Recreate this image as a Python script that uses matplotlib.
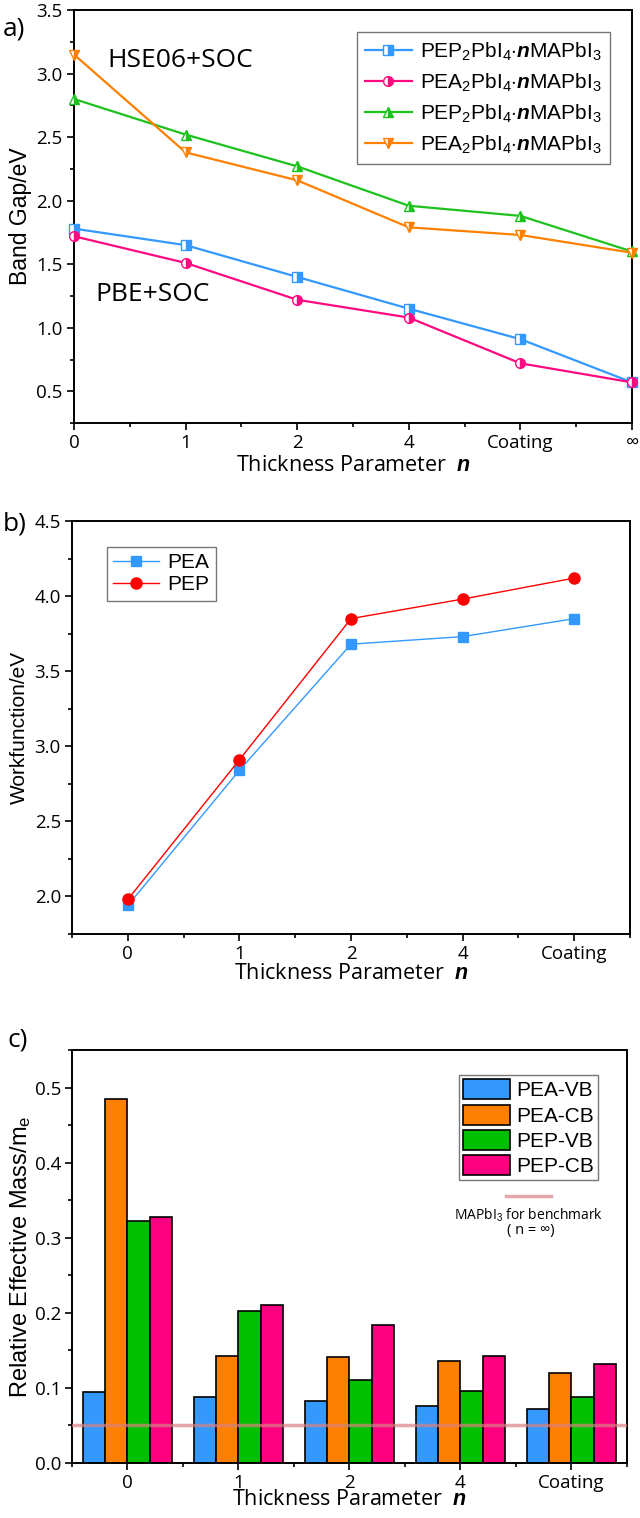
import numpy as np
import matplotlib
matplotlib.use('Agg')
import matplotlib.pyplot as plt
from matplotlib.ticker import MultipleLocator

plt.rcParams['font.family'] = ['Open Sans', 'DejaVu Sans']
plt.rcParams['mathtext.fontset'] = 'custom'
plt.rcParams['mathtext.rm'] = 'Liberation Sans'
plt.rcParams['mathtext.it'] = 'Liberation Sans:italic'
plt.rcParams['mathtext.bf'] = 'Liberation Sans:bold'
plt.rcParams['mathtext.bfit'] = 'Liberation Sans:bold:italic'

# ---- data: panel a (band gaps) ----
gap_ticks = ['0', '1', '2', '4', 'Coating', '\u221e']
pep_pbe = [1.78, 1.65, 1.40, 1.15, 0.91, 0.57]
pea_pbe = [1.72, 1.51, 1.22, 1.08, 0.72, 0.57]
pep_hse = [2.80, 2.52, 2.27, 1.96, 1.88, 1.60]
pea_hse = [3.15, 2.38, 2.16, 1.79, 1.73, 1.59]

# ---- data: panel b (workfunction) ----
wf_ticks = ['0', '1', '2', '4', 'Coating']
wf_pea = [1.94, 2.84, 3.68, 3.73, 3.85]
wf_pep = [1.98, 2.91, 3.85, 3.98, 4.12]

# ---- data: panel c (effective mass) ----
mass_ticks = ['0', '1', '2', '4', 'Coating']
pea_vb = [0.095, 0.088, 0.083, 0.076, 0.072]
pea_cb = [0.485, 0.143, 0.141, 0.136, 0.120]
pep_vb = [0.322, 0.203, 0.110, 0.096, 0.088]
pep_cb = [0.327, 0.211, 0.184, 0.143, 0.132]
mapbi3_ref = 0.05

BLUE = '#3399FF'
PINK = '#FF0A80'
GREEN = '#1DC21D'
ORANGE = '#FF8000'
REFCOL = '#D98080'

fig = plt.figure(figsize=(6.4, 15.18), dpi=100)
ax_a = fig.add_axes([0.1156, 0.7213, 0.872, 0.2721])
ax_b = fig.add_axes([0.1125, 0.3847, 0.872, 0.2721])
ax_c = fig.add_axes([0.1125, 0.0362, 0.867, 0.2721])

nlabel = 'Thickness Parameter  $\\mathbfit{n}$'
LEGFONT = {'family': 'Liberation Sans', 'size': 15}


def style_axes(ax):
    for s in ax.spines.values():
        s.set_linewidth(1.4)
    ax.tick_params(which='both', direction='out', top=False, right=False, width=1.2)
    ax.tick_params(which='major', length=5, labelsize=13.5, pad=3)
    ax.tick_params(which='minor', length=3)
    ax.xaxis.set_minor_locator(MultipleLocator(0.5))


# ---- panel a ----
x = np.arange(len(gap_ticks))
series_a = [
    (pep_pbe, BLUE, 's', 'PEP$_2$PbI$_4$$\\cdot$$\\mathbfit{n}$MAPbI$_3$'),
    (pea_pbe, PINK, 'o', 'PEA$_2$PbI$_4$$\\cdot$$\\mathbfit{n}$MAPbI$_3$'),
    (pep_hse, GREEN, '^', 'PEP$_2$PbI$_4$$\\cdot$$\\mathbfit{n}$MAPbI$_3$'),
    (pea_hse, ORANGE, 'v', 'PEA$_2$PbI$_4$$\\cdot$$\\mathbfit{n}$MAPbI$_3$'),
]
for vals, col, mk, lab in series_a:
    ax_a.plot(x, vals, color=col, lw=1.6, marker=mk, ms=7, fillstyle='right',
              markerfacecoloralt='white', markeredgecolor=col, markeredgewidth=1.0,
              label=lab, clip_on=False, zorder=3)
ax_a.set_xlim(0, 5)
ax_a.set_ylim(0.25, 3.5)
ax_a.set_xticks(x)
ax_a.set_xticklabels(gap_ticks)
ax_a.yaxis.set_major_locator(MultipleLocator(0.5))
ax_a.yaxis.set_minor_locator(MultipleLocator(0.25))
style_axes(ax_a)
ax_a.set_xlabel(nlabel, fontsize=15.5, labelpad=2)
ax_a.set_ylabel('Band Gap/eV', fontsize=16.5, family='Liberation Sans', labelpad=3)
ax_a.text(0.3, 3.1, 'HSE06+SOC', fontsize=19, va='center')
ax_a.text(0.19, 1.26, 'PBE+SOC', fontsize=19, va='center')
leg = ax_a.legend(loc='upper right', bbox_to_anchor=(0.9606, 0.947), prop=LEGFONT,
                  frameon=True, fancybox=False, edgecolor='#555555',
                  handlelength=2.25, labelspacing=0.42, borderpad=0.4,
                  handletextpad=0.4, borderaxespad=0)
leg.get_frame().set_linewidth(1.0)
fig.text(0.004, 0.981, 'a)', fontsize=19, va='center')

# ---- panel b ----
xb = np.arange(len(wf_ticks))
ax_b.plot(xb, wf_pea, color=BLUE, lw=1.0, marker='s', ms=7, label='PEA', zorder=3)
ax_b.plot(xb, wf_pep, color='#FF0000', lw=1.0, marker='o', ms=8, label='PEP', zorder=3)
ax_b.set_xlim(-0.5, 4.5)
ax_b.set_ylim(1.75, 4.5)
ax_b.set_xticks(xb)
ax_b.set_xticklabels(wf_ticks)
ax_b.yaxis.set_major_locator(MultipleLocator(0.5))
ax_b.yaxis.set_minor_locator(MultipleLocator(0.25))
style_axes(ax_b)
ax_b.set_xlabel(nlabel, fontsize=15.5, labelpad=0)
ax_b.set_ylabel('Workfunction/eV', fontsize=15, family='Liberation Sans', labelpad=4)
leg = ax_b.legend(loc='upper left', bbox_to_anchor=(0.063, 0.937), prop=LEGFONT,
                  frameon=True, fancybox=False, edgecolor='#555555',
                  handlelength=2.2, labelspacing=0.15, borderpad=0.3,
                  handletextpad=0.4, borderaxespad=0)
leg.get_frame().set_linewidth(1.0)
fig.text(0.004, 0.655, 'b)', fontsize=19, va='center')

# ---- panel c ----
xc = np.arange(len(mass_ticks))
w = 0.2
bars_c = [(pea_vb, BLUE, 'PEA-VB'), (pea_cb, ORANGE, 'PEA-CB'),
          (pep_vb, '#00C000', 'PEP-VB'), (pep_cb, '#FF0080', 'PEP-CB')]
for i, (vals, col, lab) in enumerate(bars_c):
    ax_c.bar(xc + (i - 1.5) * w, vals, width=w, color=col, edgecolor='black',
             linewidth=1.2, label=lab, zorder=2)
ax_c.axhline(mapbi3_ref, color=REFCOL, lw=2.5, alpha=0.7, zorder=4)
ax_c.set_xlim(-0.5, 4.5)
ax_c.set_ylim(0, 0.55)
ax_c.set_xticks(xc)
ax_c.set_xticklabels(mass_ticks)
ax_c.yaxis.set_major_locator(MultipleLocator(0.1))
ax_c.yaxis.set_minor_locator(MultipleLocator(0.05))
style_axes(ax_c)
ax_c.set_xlabel(nlabel, fontsize=15.5, labelpad=-2)
ax_c.set_ylabel('Relative Effective Mass/m$_\\mathrm{e}$', fontsize=17,
                family='Liberation Sans', labelpad=1)
leg = ax_c.legend(loc='upper right', bbox_to_anchor=(0.948, 0.939), prop=LEGFONT,
                  frameon=True, fancybox=False, edgecolor='#555555',
                  handlelength=2.25, handleheight=1.1, labelspacing=0.2,
                  borderpad=0.2, handletextpad=0.3, borderaxespad=0)
leg.get_frame().set_linewidth(1.0)
# small benchmark key under the legend
ax_c.plot([3.41, 3.82], [0.355, 0.355], color=REFCOL, lw=2.5, alpha=0.7, zorder=4)
ax_c.text(3.61, 0.330, 'MAPbI$_3$ for benchmark', fontsize=10, ha='center', va='center')
ax_c.text(3.63, 0.310, '( n = \u221e)', fontsize=10.5, ha='center', va='center')
fig.text(0.012, 0.315, 'c)', fontsize=19, va='center')

fig.savefig('out.png', dpi=100)
